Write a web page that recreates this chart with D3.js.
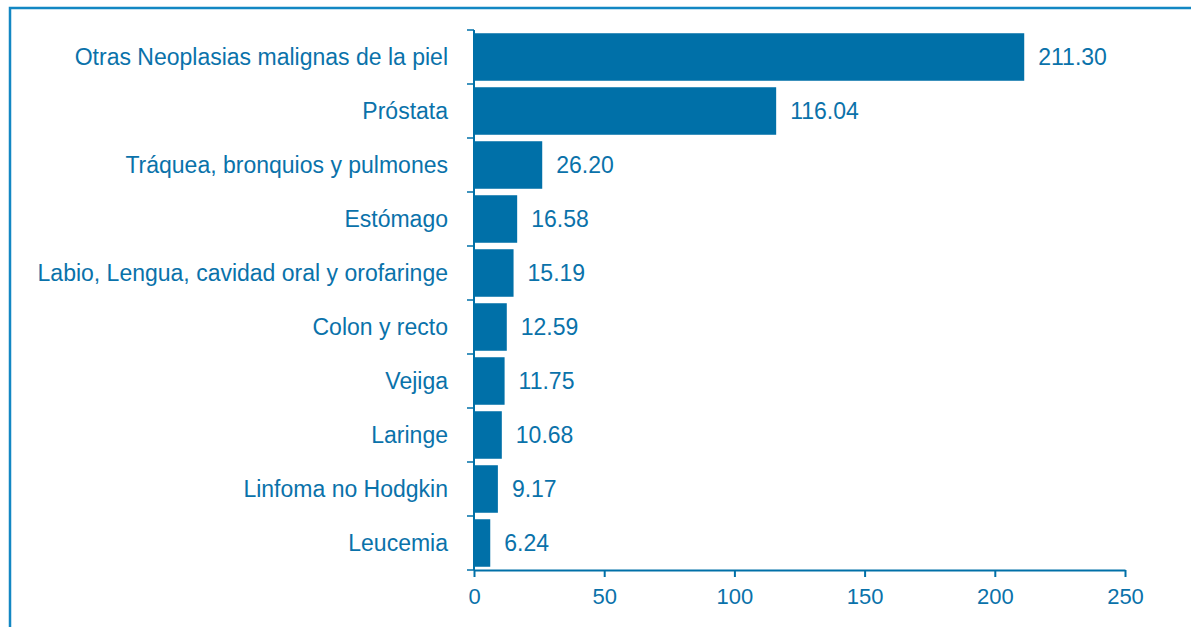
<!DOCTYPE html>
<html><head><meta charset="utf-8">
<script src="https://cdn.jsdelivr.net/npm/d3@7"></script>
<style>
html,body{margin:0;padding:0;background:#fff;}
svg{display:block;font-family:"Liberation Sans",Arial,sans-serif;}
</style></head>
<body>
<svg id="chart" width="1191" height="627"></svg>
<script>
const categories = ["Otras Neoplasias malignas de la piel","Próstata","Tráquea, bronquios y pulmones","Estómago","Labio, Lengua, cavidad oral y orofaringe","Colon y recto","Vejiga","Laringe","Linfoma no Hodgkin","Leucemia"];
const values = [211.30,116.04,26.20,16.58,15.19,12.59,11.75,10.68,9.17,6.24];
const xTicks = [0,50,100,150,200,250];

const svg = d3.select("#chart");
const color = "#0070a8";
const textColor = "#0a72aa";
const fs = 23;
const mLeft = 474, mRight = 1125, mTop = 30, mBottom = 570;

// frame
svg.append("path").attr("d","M10,627 L10,8 L1191,8").attr("fill","none").attr("stroke","#1387c3").attr("stroke-width",2.5);

const x = d3.scaleLinear().domain([0,250]).range([mLeft,mRight]);
const y = d3.scaleBand().domain(categories).range([mTop,mBottom]).paddingInner(0.12).paddingOuter(0.06);

svg.selectAll("rect.bar").data(values).join("rect")
  .attr("class","bar")
  .attr("x",x(0))
  .attr("y",(d,i)=>y(categories[i]))
  .attr("width",d=>x(d)-x(0))
  .attr("height",y.bandwidth())
  .attr("fill",color);

svg.selectAll("text.val").data(values).join("text")
  .attr("class","val")
  .attr("x",d=>x(d)+14)
  .attr("y",(d,i)=>y(categories[i])+y.bandwidth()/2)
  .attr("dy","0.35em")
  .attr("fill",textColor)
  .attr("font-size",fs)
  .text(d=>d.toFixed(2));

// y axis
const step = (mBottom-mTop)/categories.length;
const yg = svg.append("g");
yg.append("line").attr("x1",mLeft).attr("x2",mLeft).attr("y1",mTop).attr("y2",mBottom).attr("stroke",color).attr("stroke-width",2);
d3.range(categories.length+1).forEach(i=>{
  yg.append("line").attr("x1",mLeft-7).attr("x2",mLeft).attr("y1",mTop+i*step).attr("y2",mTop+i*step).attr("stroke",color).attr("stroke-width",1.5);
});
yg.selectAll("text").data(categories).join("text")
  .attr("x",448)
  .attr("y",d=>y(d)+y.bandwidth()/2)
  .attr("dy","0.35em")
  .attr("text-anchor","end")
  .attr("fill",textColor)
  .attr("font-size",fs)
  .text(d=>d);

// x axis
const xg = svg.append("g").attr("transform",`translate(0,${mBottom})`)
  .call(d3.axisBottom(x).tickValues(xTicks).tickSize(7).tickSizeOuter(0).tickPadding(11).tickFormat(d3.format("d")));
xg.select(".domain").attr("stroke",color).attr("stroke-width",2);
xg.selectAll(".tick line").attr("stroke",color).attr("stroke-width",2);
xg.selectAll(".tick text").attr("fill",textColor).attr("font-size",22).attr("font-family","Liberation Sans, Arial, sans-serif");
</script>
</body></html>
